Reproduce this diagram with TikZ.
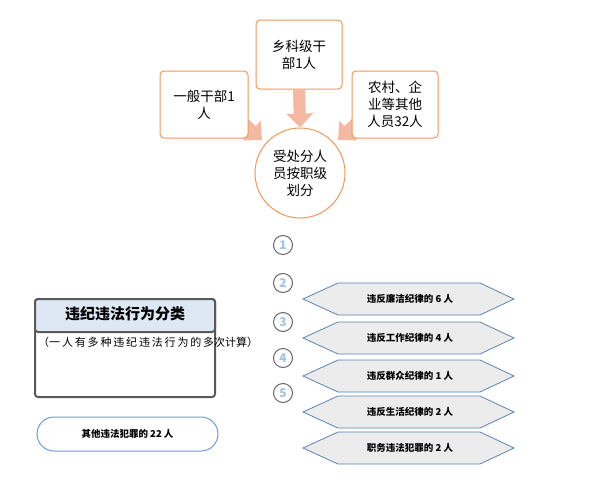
\documentclass[tikz,border=0pt]{standalone}
\usepackage{fontspec}
\setmainfont{Noto Sans CJK SC}
\usetikzlibrary{shapes.geometric,arrows.meta}
\definecolor{org}{HTML}{ED7D31}
\definecolor{sal}{HTML}{F4B9A0}
\definecolor{hexb}{HTML}{5B84B1}
\definecolor{numc}{HTML}{9DC3E6}
\definecolor{tfill}{HTML}{DEE8F4}
\definecolor{ellb}{HTML}{6F9AD8}
\tikzset{
 obox/.style={draw=org!80,line width=1pt,rounded corners=4pt,fill=white,align=center,font=\fontsize{13.5}{17}\selectfont,inner sep=3pt},
 big/.style={line width=12pt,draw=sal,-{Triangle[length=14pt,width=26pt]}},
 numc/.style={circle,draw=gray!80!black,line width=1pt,minimum size=19pt,inner sep=0pt,font=\bfseries\fontsize{12}{12}\selectfont,text=numc},
 hexa/.style={draw=hexb,fill=gray!15,line width=0.8pt},
 htext/.style={font=\bfseries\fontsize{9.5}{11}\selectfont}
}
\begin{document}
\begin{tikzpicture}[x=1pt,y=-1pt]
\useasboundingbox (0,0) rectangle (600,482);
\coordinate (la) at (238,118);
\coordinate (lb) at (262,140);
\coordinate (ra) at (362,118);
\coordinate (rb) at (338,140);
\draw[big] (la) -- (lb);
\draw[big] (ra) -- (rb);
\node[obox,minimum width=88pt,minimum height=67pt,text width=80pt] (a) at (204,104.5) {一般干部1\\人};
\node[obox,minimum width=86pt,minimum height=69pt,text width=78pt] (b) at (299,54.5) {乡科级干\\部1人};
\node[obox,minimum width=86pt,minimum height=67pt,text width=80pt] (c) at (395,104.5) {农村、企\\业等其他\\人员32人};
\node[circle,draw=org!80,line width=1pt,minimum size=90pt,align=center,font=\fontsize{13.5}{17}\selectfont] (d) at (300,173) {受处分人\\员按职级\\划分};
\draw[big] (b.south) -- (d.north);
\foreach \n/\y in {1/245,2/283,3/322,4/358,5/393}
  \node[numc] (n\n) at (283,\y) {\n};
\foreach \i/\y/\txt in {1/299/违反廉洁纪律的 6 人,2/338/违反工作纪律的 4 人,3/376/违反群众纪律的 1 人,4/412/违反生活纪律的 2 人,5/448/职务违法犯罪的 2 人}{
  \draw[hexa] (303,\y) -- (338,\y-16) -- (480,\y-16) -- (514,\y) -- (480,\y+16) -- (338,\y+16) -- cycle;
  \node[htext] (h\i) at (410,\y) {\txt};
}
\draw[gray!70!black,line width=2pt,rounded corners=3pt,fill=white] (35,299) rectangle (215,397);
\draw[gray!70!black,line width=2pt,rounded corners=3pt,fill=tfill] (35,299) rectangle (215,332);
\node[font=\bfseries\fontsize{15}{17}\selectfont] (t) at (125,314) {违纪违法行为分类};
\node[anchor=north west,text width=176pt,font=\fontsize{11}{17}\selectfont,inner sep=0pt] (s) at (38,337) {（一\,人\,有\,多\,种\,违\,纪\,违\,法\,行\,为\,的\,多次计算）};
\node[draw=ellb,line width=1pt,rounded corners=17pt,minimum width=181pt,minimum height=34pt,font=\bfseries\fontsize{9.5}{11}\selectfont] (o) at (127.5,434) {其他违法犯罪的 22 人};
\end{tikzpicture}
\end{document}
